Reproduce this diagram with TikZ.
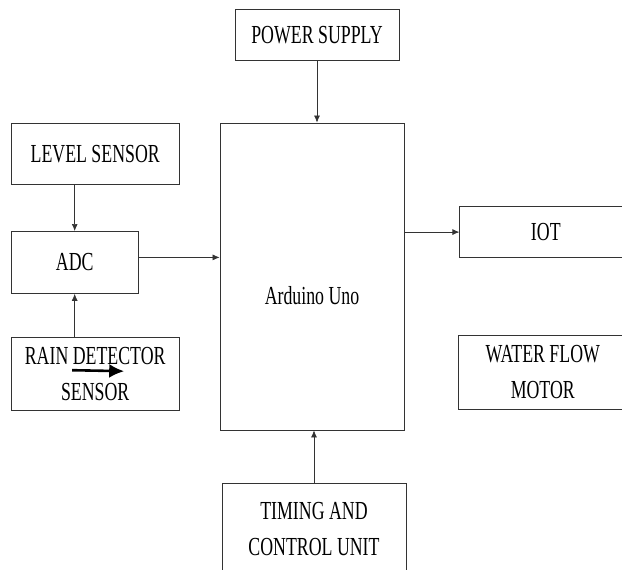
\documentclass[tikz,border=0pt]{standalone}
\usepackage{fontspec}
\setmainfont{Liberation Serif}[FakeStretch=0.685]
\usepackage{tikz}
\usetikzlibrary{positioning, arrows.meta}

\begin{document}
\begin{tikzpicture}[
      x=1pt, y=-1pt,
      box/.style={draw=black!80, line width=0.8pt, inner sep=0pt, align=center,
        font=\fontsize{26pt}{36pt}\selectfont},
      arrow/.style={-{Latex[length=7pt, width=6pt]}, line width=0.7pt, black!80},
      bigarrow/.style={-{Latex[length=15pt, width=14pt]}, line width=2.6pt},
    ]
    \useasboundingbox (0,0) rectangle (622,570);
    \node[box, minimum width=184pt, minimum height=307pt,
      label={[font=\fontsize{26pt}{36pt}\selectfont, yshift=-19pt]center:Arduino Uno}] (arduino) at (312,276.5) {};
    \node[box, above=62pt of arduino, xshift=5pt, minimum width=164pt, minimum height=51pt] (power) {POWER SUPPLY};
    \node[box, below=53pt of arduino, xshift=2pt, minimum width=184pt, minimum height=91pt] (timing) {TIMING AND\\CONTROL UNIT};
    \node[box, above left=91.5pt and 40pt of arduino.west, minimum width=168pt, minimum height=61pt] (level) {LEVEL SENSOR};
    \node[box, below right=46pt and 0pt of level.south west, minimum width=127pt, minimum height=62pt] (adc) {ADC};
    \node[box, below right=43pt and 0pt of adc.south west, minimum width=168pt, minimum height=73pt] (rain) {RAIN DETECTOR\\SENSOR};
    \node[box, above right=18.5pt and 55pt of arduino.east, minimum width=172pt, minimum height=51pt] (iot) {IOT};
    \node[box, below right=58.5pt and 54pt of arduino.east, minimum width=168pt, minimum height=74pt] (water) {WATER FLOW\\MOTOR};
    % Arrows
    \draw[arrow] (power.south) -- (power.south |- arduino.north);
    \draw[arrow] (timing.north) -- (timing.north |- arduino.south);
    \draw[arrow] (level.south -| adc) -- (adc.north);
    \draw[arrow] (rain.north -| adc) -- (adc.south);
    \draw[arrow] ([yshift=5pt]adc.east) -- ([yshift=5pt]adc.east -| arduino.west);
    \draw[arrow] (arduino.east |- iot) -- (iot.west);
    % stray arrow
    \coordinate (tail) at ([xshift=-23pt, yshift=3.5pt]rain.center);
    \coordinate (head) at ([xshift=29pt, yshift=2.5pt]rain.center);
    \draw[bigarrow] (tail) -- (head);
  \end{tikzpicture}
\end{document}
